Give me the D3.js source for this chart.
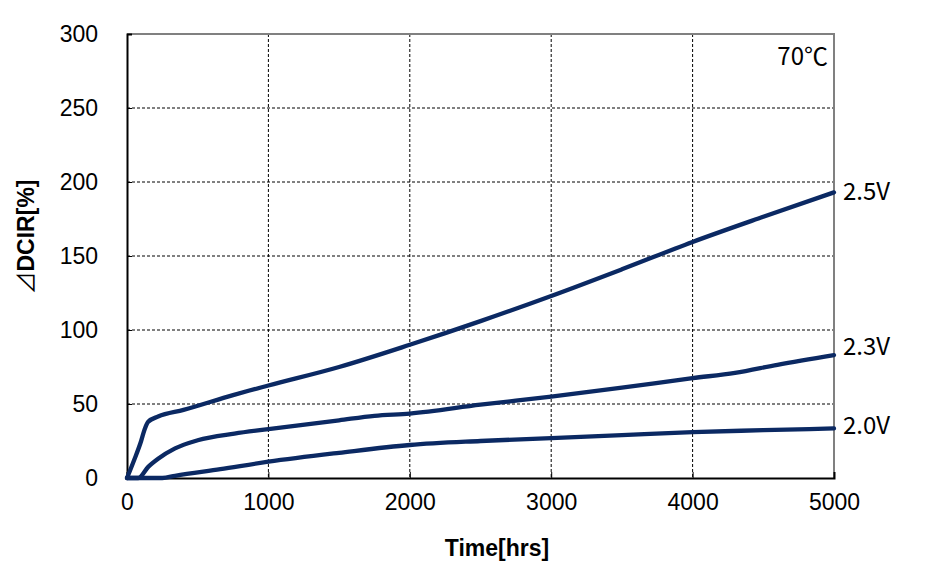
<!DOCTYPE html>
<html>
<head>
<meta charset="utf-8">
<script src="https://cdn.jsdelivr.net/npm/d3@7"></script>
<style>
  body { margin: 0; background: #fff; }
  svg { display: block; }
</style>
</head>
<body>
<div id="chart"></div>
<script>
// series names and their values: [hours, dDCIR %]
const seriesNames = ['2.5V', '2.3V', '2.0V'];
const v25 = [[0, 0], [50, 12], [100, 25], [125, 33], [150, 38], [220, 41.5], [400, 46], [750, 56], [1000, 62.5],
  [1500, 75], [2000, 90], [2500, 106], [3000, 123], [3500, 141], [4000, 159.5], [4500, 176.5], [5000, 193]];
const v23 = [[0, 0], [80, 0], [150, 7.5], [220, 13], [340, 20], [500, 25.5], [760, 30], [1000, 33], [1500, 39],
  [1750, 42], [2000, 43.5], [2500, 49.5], [3000, 55], [3500, 61], [4000, 67.5], [4300, 71], [4600, 76.5], [5000, 83]];
const v20 = [[0, 0], [250, 0], [340, 1.5], [660, 6], [1000, 11], [1500, 17], [2000, 22.3], [2500, 25],
  [3000, 27], [3500, 29], [4000, 31], [4500, 32.3], [5000, 33.5]];
const labelValues = [195, 90, 37];
const xTicks = [0, 1000, 2000, 3000, 4000, 5000];
const yTicks = [0, 50, 100, 150, 200, 250, 300];

const width = 937, height = 575;
const margin = { top: 34, right: 103, bottom: 97, left: 127 };
const w = width - margin.left - margin.right;
const h = height - margin.top - margin.bottom;

const svg = d3.select('#chart').append('svg')
  .attr('width', width)
  .attr('height', height);
const g = svg.append('g').attr('transform', `translate(${margin.left},${margin.top})`);

const x = d3.scaleLinear().domain([0, 5000]).range([0, w]);
const y = d3.scaleLinear().domain([0, 300]).range([h, 0]);

// dashed grid
g.append('g').selectAll('line').data(yTicks.slice(1, -1)).join('line')
  .attr('x1', 0).attr('x2', w)
  .attr('y1', d => y(d)).attr('y2', d => y(d))
  .attr('stroke', '#000').attr('stroke-width', 1).attr('stroke-dasharray', '3,2');
g.append('g').selectAll('line').data(xTicks.slice(1, -1)).join('line')
  .attr('y1', 0).attr('y2', h)
  .attr('x1', d => x(d)).attr('x2', d => x(d))
  .attr('stroke', '#000').attr('stroke-width', 1).attr('stroke-dasharray', '3,2');

// gray frame on top and right
g.append('path')
  .attr('d', `M0,0H${w}V${h}`)
  .attr('fill', 'none').attr('stroke', '#808080').attr('stroke-width', 2);

// axes
const xAxis = g.append('g').attr('transform', `translate(0,${h})`)
  .call(d3.axisBottom(x).tickValues(xTicks).tickSize(-6).tickPadding(16).tickFormat(d3.format('d')));
const yAxis = g.append('g')
  .call(d3.axisLeft(y).tickValues(yTicks).tickSize(-5).tickPadding(29));
[xAxis, yAxis].forEach(ax => {
  ax.select('.domain').attr('stroke', '#000').attr('stroke-width', 2);
  ax.selectAll('.tick line').attr('stroke', '#000').attr('stroke-width', 1);
  ax.selectAll('text')
    .attr('fill', '#000')
    .style('font-family', '"Liberation Sans", Arial, sans-serif')
    .style('font-size', '23px');
});

// lines
const line = d3.line().x(d => x(d[0])).y(d => y(d[1])).curve(d3.curveMonotoneX);
const allSeries = [v25, v23, v20];
g.append('g').selectAll('path').data(allSeries).join('path')
  .attr('d', line)
  .attr('fill', 'none')
  .attr('stroke', '#0b2963')
  .attr('stroke-width', 4.3)
  .attr('stroke-linejoin', 'round')
  .attr('stroke-linecap', 'round');

// series labels on the right
g.append('g').selectAll('text').data(seriesNames).join('text')
  .attr('x', w + 9)
  .attr('y', (d, i) => y(labelValues[i]))
  .attr('dominant-baseline', 'central')
  .style('font-family', '"Noto Sans CJK KR", "Noto Sans", sans-serif')
  .style('font-size', '24px')
  .text(d => d);

// temperature note
g.append('text')
  .attr('x', w - 6).attr('y', 31)
  .attr('text-anchor', 'end')
  .style('font-family', '"Noto Sans CJK KR", "Noto Sans", sans-serif')
  .style('font-size', '24px')
  .text('70℃');

// axis titles
svg.append('text')
  .attr('x', 497).attr('y', 556)
  .attr('text-anchor', 'middle')
  .style('font-family', '"Liberation Sans", Arial, sans-serif')
  .style('font-weight', 'bold')
  .style('font-size', '23px')
  .text('Time[hrs]');
const yTitle = svg.append('text')
  .attr('transform', 'translate(34,237) rotate(-90)')
  .attr('text-anchor', 'middle')
  .style('font-family', '"Liberation Sans", Arial, sans-serif')
  .style('font-weight', 'bold')
  .style('font-size', '23px');
yTitle.append('tspan')
  .style('font-family', '"Noto Sans CJK KR", "DejaVu Sans", sans-serif')
  .style('font-weight', 'normal')
  .text('⊿');
yTitle.append('tspan').text('DCIR[%]');
</script>
</body>
</html>
